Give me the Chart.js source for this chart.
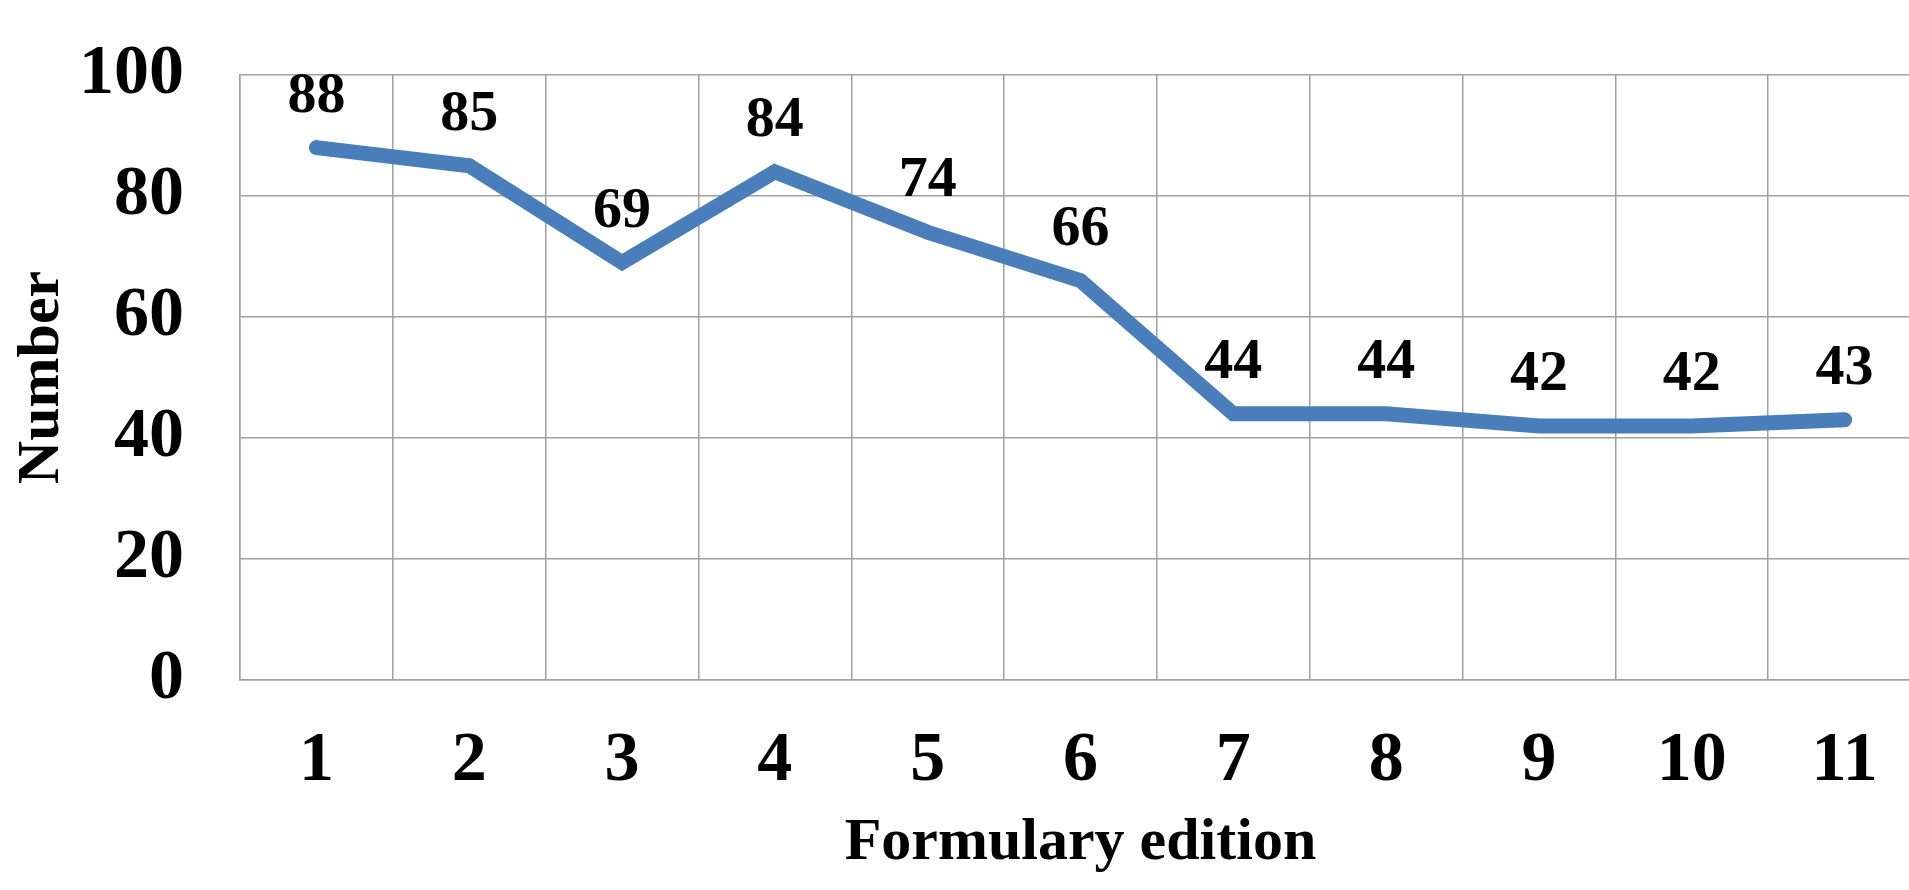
<!DOCTYPE html>
<html>
<head>
<meta charset="utf-8">
<script src="https://cdn.jsdelivr.net/npm/chart.js@4/dist/chart.umd.min.js"></script>
<style>
  html, body { margin: 0; padding: 0; background: #fff; overflow: hidden; }
  #wrap { width: 1921px; height: 890px; }
</style>
</head>
<body>
<div id="wrap"><canvas id="chart"></canvas></div>
<script>
const editions = ['1', '2', '3', '4', '5', '6', '7', '8', '9', '10', '11'];
const numbers = [88, 85, 69, 84, 74, 66, 44, 44, 42, 42, 43];
const yTicks = [0, 20, 40, 60, 80, 100];

const serif = '"Liberation Serif", "Times New Roman", serif';
const gridColor = '#a0a0a0';

// values written above each point
const pointLabels = {
  id: 'pointLabels',
  afterDatasetsDraw(chart, args, opts) {
    const { ctx } = chart;
    const meta = chart.getDatasetMeta(0);
    ctx.save();
    ctx.font = `bold ${opts.size}px ${serif}`;
    ctx.fillStyle = '#000';
    ctx.textAlign = 'center';
    ctx.textBaseline = 'middle';
    meta.data.forEach((pt, i) => {
      ctx.fillText(String(numbers[i]), pt.x, pt.y - opts.lift);
    });
    ctx.restore();
  },
};

new Chart(document.getElementById('chart'), {
  type: 'line',
  data: {
    labels: editions,
    datasets: [
      {
        label: 'Number',
        data: numbers,
        borderColor: '#4a7ebb',
        backgroundColor: '#4a7ebb',
        borderWidth: 15,
        borderCapStyle: 'round',
        borderJoinStyle: 'miter',
        pointRadius: 0,
        tension: 0,
      },
    ],
  },
  options: {
    responsive: true,
    maintainAspectRatio: false,
    animation: false,
    layout: {
      padding: { top: 75, bottom: 0, left: 0, right: 0 },
    },
    scales: {
      x: {
        offset: true,
        afterFit: (scale) => { scale.height = 210; },
        grid: { offset: true, color: gridColor, lineWidth: 1.5, drawTicks: false },
        border: { color: gridColor, width: 1.5 },
        ticks: {
          padding: 40,
          color: '#000',
          font: { family: serif, size: 70, weight: 'bold' },
        },
        title: {
          display: true,
          text: 'Formulary edition',
          color: '#000',
          padding: { top: 0, bottom: 11 },
          font: { family: serif, size: 60, weight: 'bold' },
        },
      },
      y: {
        min: 0,
        max: 100,
        afterFit: (scale) => {
          scale.width = 240;
          scale.paddingTop = 0;
          scale.paddingBottom = 0;
        },
        afterBuildTicks: (scale) => {
          scale.ticks = yTicks.map((v) => ({ value: v }));
        },
        grid: { color: gridColor, lineWidth: 1.5, drawTicks: false },
        border: { color: gridColor, width: 1.5 },
        ticks: {
          padding: 56,
          color: '#000',
          font: { family: serif, size: 70, weight: 'bold' },
        },
        title: {
          display: true,
          text: 'Number',
          color: '#000',
          padding: { top: 6, bottom: 1 },
          font: { family: serif, size: 60, weight: 'bold' },
        },
      },
    },
    plugins: {
      legend: { display: false },
      tooltip: { enabled: false },
      pointLabels: { size: 58, lift: 51 },
    },
  },
  plugins: [pointLabels],
});
</script>
</body>
</html>
